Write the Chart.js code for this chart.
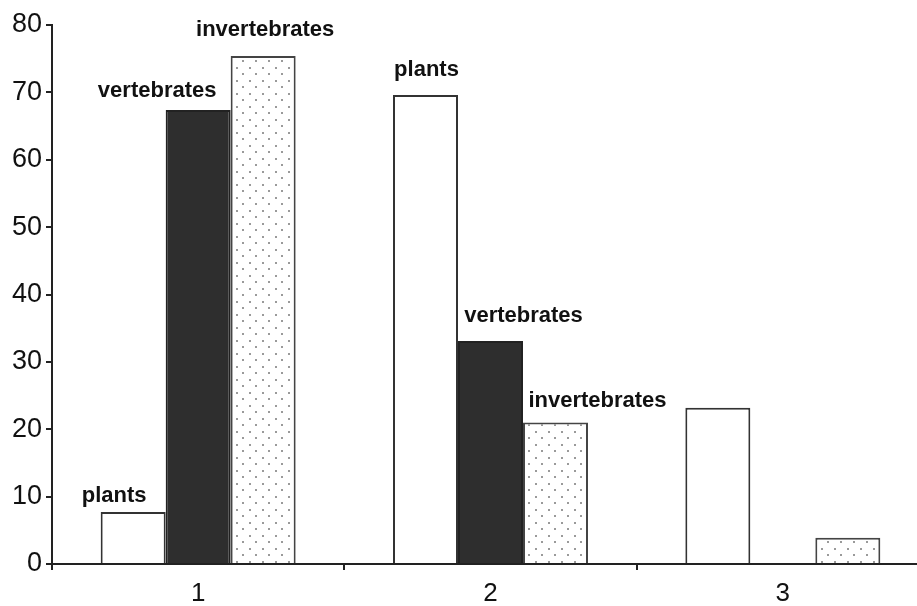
<!DOCTYPE html>
<html>
<head>
<meta charset="utf-8">
<script src="https://cdn.jsdelivr.net/npm/chart.js@4.4.0/dist/chart.umd.min.js"></script>
<style>
  html, body { margin: 0; padding: 0; background: #fff; overflow: hidden; }
  #wrap { width: 935px; height: 606px; position: relative; }
</style>
</head>
<body>
<div id="wrap"><canvas id="c"></canvas></div>
<script>
const categories = ['1', '2', '3'];
const seriesNames = ['plants', 'vertebrates', 'invertebrates'];
const plants = [7.7, 69.6, 23.2];
const vertebrates = [67.4, 33.1, null];
const invertebrates = [75.4, 21.0, 3.9];
const yTicks = [0, 10, 20, 30, 40, 50, 60, 70, 80];

function dotPattern() {
  const t = document.createElement('canvas');
  t.width = 13; t.height = 13;
  const g = t.getContext('2d');
  g.fillStyle = '#ffffff';
  g.fillRect(0, 0, 13, 13);
  g.fillStyle = '#9a9a9a';
  g.fillRect(2, 2, 2, 2);
  g.fillRect(8, 8, 2, 2);
  return document.getElementById('c').getContext('2d').createPattern(t, 'repeat');
}

// label placement (style): [dataset, index, dx, dy]
const labelPlacement = [
  [0, 0, -19, -16], [1, 0, -41, -19], [2, 0, 2, -26],
  [0, 1, 1, -25], [1, 1, 33, -25], [2, 1, 42, -22]
];

const labelPlugin = {
  id: 'barLabels',
  afterDatasetsDraw(chart) {
    const ctx = chart.ctx;
    ctx.save();
    ctx.font = 'bold 22px "Liberation Sans", Arial, sans-serif';
    ctx.fillStyle = '#111';
    ctx.textAlign = 'center';
    ctx.textBaseline = 'middle';
    labelPlacement.forEach(([d, i, dx, dy]) => {
      const el = chart.getDatasetMeta(d).data[i];
      if (!el) return;
      ctx.fillText(chart.data.datasets[d].label, el.x + dx, el.y + dy);
    });
    ctx.restore();
  }
};

const ctx = document.getElementById('c');
new Chart(ctx, {
  type: 'bar',
  data: {
    labels: categories,
    datasets: [
      { label: seriesNames[0], data: plants, backgroundColor: '#ffffff', borderColor: '#333', borderWidth: 2 },
      { label: seriesNames[1], data: vertebrates, backgroundColor: '#2e2e2e', borderColor: '#222', borderWidth: 2 },
      { label: seriesNames[2], data: invertebrates, backgroundColor: dotPattern(), borderColor: '#444', borderWidth: 2 }
    ]
  },
  options: {
    responsive: true,
    maintainAspectRatio: false,
    animation: false,
    layout: { padding: { top: 25, right: 6, left: 0, bottom: 0 } },
    datasets: { bar: { categoryPercentage: 0.667, barPercentage: 1.0 } },
    plugins: { legend: { display: false }, tooltip: { enabled: false } },
    scales: {
      x: {
        offset: true,
        grid: { display: true, offset: true, drawOnChartArea: false, tickLength: 6, color: '#222', lineWidth: 2 },
        border: { display: true, color: '#222', width: 2 },
        ticks: { color: '#111', font: { family: '"Liberation Sans", Arial, sans-serif', size: 26 }, padding: 8 },
        afterFit(s) { s.height = 42; }
      },
      y: {
        min: 0, max: 80,
        afterBuildTicks(s) { s.ticks = yTicks.map(v => ({ value: v })); },
        grid: { display: true, drawOnChartArea: false, tickLength: 6, color: '#222', lineWidth: 2 },
        border: { display: true, color: '#222', width: 2 },
        ticks: { color: '#111', font: { family: '"Liberation Sans", Arial, sans-serif', size: 27 }, padding: 4 },
        afterFit(s) { s.width = 52; }
      }
    }
  },
  plugins: [labelPlugin]
});
</script>
</body>
</html>
